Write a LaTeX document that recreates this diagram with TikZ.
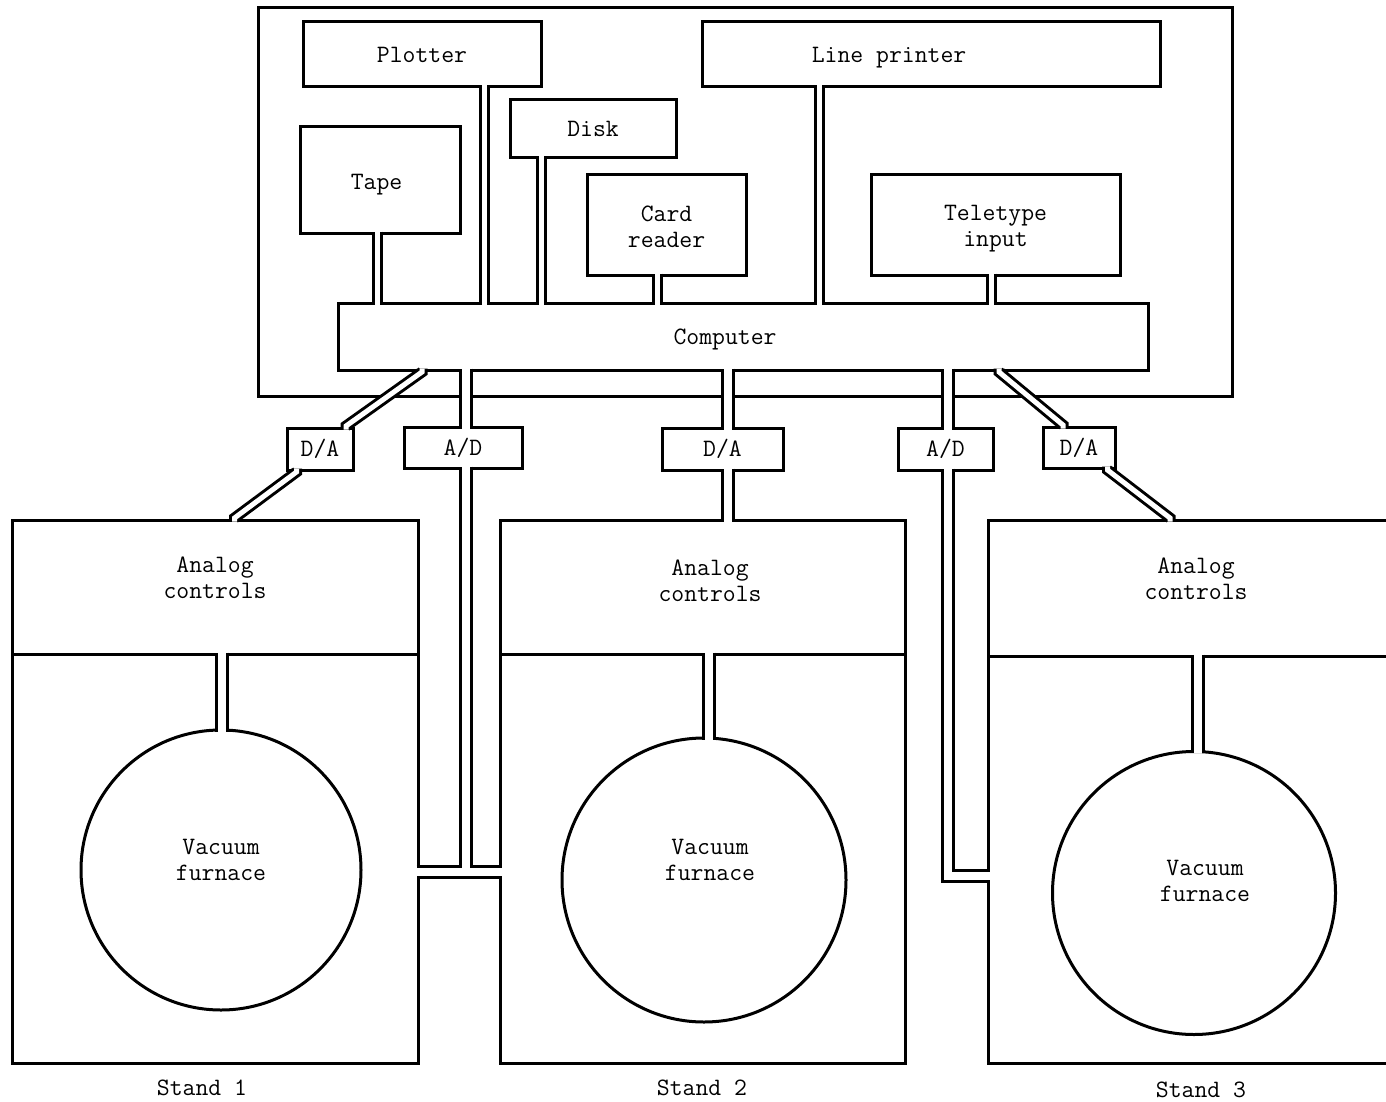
\documentclass[tikz,border=0pt]{standalone}
\usepackage{fontspec}
\tikzset{
    box/.style={draw, line width=3pt, fill=white, inner sep=0pt, outer sep=-1.5pt, align=center},
    pipe/.style={draw, line width=3pt, double=white, double distance=8pt, line join=miter},
    thinpipe/.style={pipe, double distance=5pt},
    txt/.style={align=center},
}
\begin{document}
\begin{tikzpicture}[x=1pt, y=-1pt, font=\ttfamily\fontsize{25}{26}\selectfont]
        \useasboundingbox (0,0) rectangle (1386,1102);
        \clip (0,0) rectangle (1386,1102);

        % computer room
        \node[box, fill=none, minimum width=974, minimum height=388] (frame) at (745,202) {};
        \node[box, minimum width=238, minimum height=65] (plotter) at (422,54.5) {Plotter};
        \node[box, minimum width=458, minimum height=65, label={[txt, xshift=-42pt, yshift=-3pt]center:Line printer}] (printer) at (931,54.5) {};
        \node[box, minimum width=166, minimum height=58] (disk) at (593,129) {Disk};
        \node[box, minimum width=160, minimum height=106, label={[txt, xshift=-4pt, yshift=-5pt]center:Tape}] (tape) at (380.5,180) {};
        \node[box, minimum width=159, minimum height=100, label={[txt, yshift=-2pt]center:Card\\reader}] (card) at (666.5,225) {};
        \node[box, minimum width=249, minimum height=100, label={[txt, yshift=-4pt]center:Teletype\\input}] (tty) at (995.5,225) {};
        \node[box, minimum width=810, minimum height=67, label={[txt, xshift=-18pt, yshift=-3pt]center:Computer}] (cpu) at (743,336.5) {};

        % converters
        \node[box, minimum width=66, minimum height=42] (da1) at (320,449) {D/A};
        \node[box, minimum width=118, minimum height=41] (ad1) at (463,447.5) {A/D};
        \node[box, minimum width=121, minimum height=42] (da2) at (722.5,449) {D/A};
        \node[box, minimum width=95, minimum height=42] (ad2) at (945.5,449) {A/D};
        \node[box, minimum width=72, minimum height=41] (da3) at (1079,447.5) {D/A};

        % stands
        \node[box, minimum width=406, minimum height=134, label={[txt, yshift=9pt]center:Analog\\controls}] (ctl1) at (215,587) {};
        \node[box, minimum width=406, minimum height=409] (st1) at (215,858.5) {};
        \node[box, circle, minimum size=280, label={[txt, yshift=10pt]center:Vacuum\\furnace}] (vf1) at (221,870) {};
        \node[box, minimum width=405, minimum height=134, label={[txt, xshift=7.5pt, yshift=6pt]center:Analog\\controls}] (ctl2) at (702.5,587) {};
        \node[box, minimum width=405, minimum height=409] (st2) at (702.5,858.5) {};
        \node[box, circle, minimum size=284, label={[txt, xshift=6pt, yshift=20pt]center:Vacuum\\furnace}] (vf2) at (704,880) {};
        \node[box, minimum width=412, minimum height=136, label={[txt, xshift=2pt, yshift=9pt]center:Analog\\controls}] (ctl3) at (1194,588) {};
        \node[box, minimum width=412, minimum height=407] (st3) at (1194,859.5) {};
        \node[box, circle, minimum size=283, label={[txt, xshift=11pt, yshift=12pt]center:Vacuum\\furnace}] (vf3) at (1194,893) {};

        \node (lab1) at (202,1088) {Stand 1};
        \node (lab2) at (702,1088) {Stand 2};
        \node (lab3) at (1201,1090) {Stand 3};

        \coordinate (j1) at (466,871.5);
        \coordinate (j2) at (947.5,876);

        % cables to the computer
        \draw[thinpipe] ([xshift=-3pt]tape.south) -- ([xshift=-3pt]tape.south |- cpu.north);
        \draw[thinpipe] ([xshift=62.5pt]plotter.south) -- ([xshift=62.5pt]plotter.south |- cpu.north);
        \draw[thinpipe] ([xshift=-51.5pt]disk.south) -- ([xshift=-51.5pt]disk.south |- cpu.north);
        \draw[thinpipe] ([xshift=-9pt]card.south) -- ([xshift=-9pt]card.south |- cpu.north);
        \draw[thinpipe] ([xshift=-111.5pt]printer.south) -- ([xshift=-111.5pt]printer.south |- cpu.north);
        \draw[thinpipe] ([xshift=-4pt]tty.south) -- ([xshift=-4pt]tty.south |- cpu.north);

        % computer to the stands
        \draw[thinpipe] ([xshift=-321pt]cpu.south) -- ++(0,3.5) -- ([xshift=26pt, yshift=3.5pt]da1.north) -- ([xshift=26pt]da1.north);
        \draw[thinpipe] ([xshift=-23.5pt]da1.south) -- ++(0,3.5) -- ([xshift=19.5pt, yshift=3.5pt]ctl1.north) -- ([xshift=19.5pt]ctl1.north);
        \draw[pipe] ([xshift=-277pt]cpu.south) -- ([xshift=-277pt]cpu.south |- ad1.north);
        \draw[pipe] ([xshift=3pt]ad1.south) -- (j1) (j1 -| st1.east) -- (j1 -| st2.west);
        \draw[pipe] ([xshift=-15.5pt]cpu.south) -- ([xshift=-15.5pt]cpu.south |- da2.north);
        \draw[pipe] ([xshift=5pt]da2.south) -- ([xshift=5pt]da2.south |- ctl2.north);
        \draw[pipe] ([xshift=204.5pt]cpu.south) -- ([xshift=204.5pt]cpu.south |- ad2.north);
        \draw[pipe] ([xshift=2pt]ad2.south) -- (j2) -- (j2 -| st3.west);
        \draw[thinpipe] ([xshift=256pt]cpu.south) -- ++(0,3.5) -- ([xshift=-16pt, yshift=3.5pt]da3.north) -- ([xshift=-16pt]da3.north);
        \draw[thinpipe] ([xshift=28.5pt]da3.south) -- ++(0,3.5) -- ([xshift=-24pt, yshift=3.5pt]ctl3.north) -- ([xshift=-24pt]ctl3.north);

        % controls to furnaces
        \draw[pipe] ([xshift=7pt]ctl1.south) -- ([xshift=7pt]ctl1.south |- vf1.north);
        \draw[pipe] ([xshift=6pt]ctl2.south) -- ([xshift=6pt]ctl2.south |- vf2.north);
        \draw[pipe] ([xshift=3.5pt]ctl3.south) -- ([xshift=3.5pt]ctl3.south |- vf3.north);

\end{tikzpicture}
\end{document}
